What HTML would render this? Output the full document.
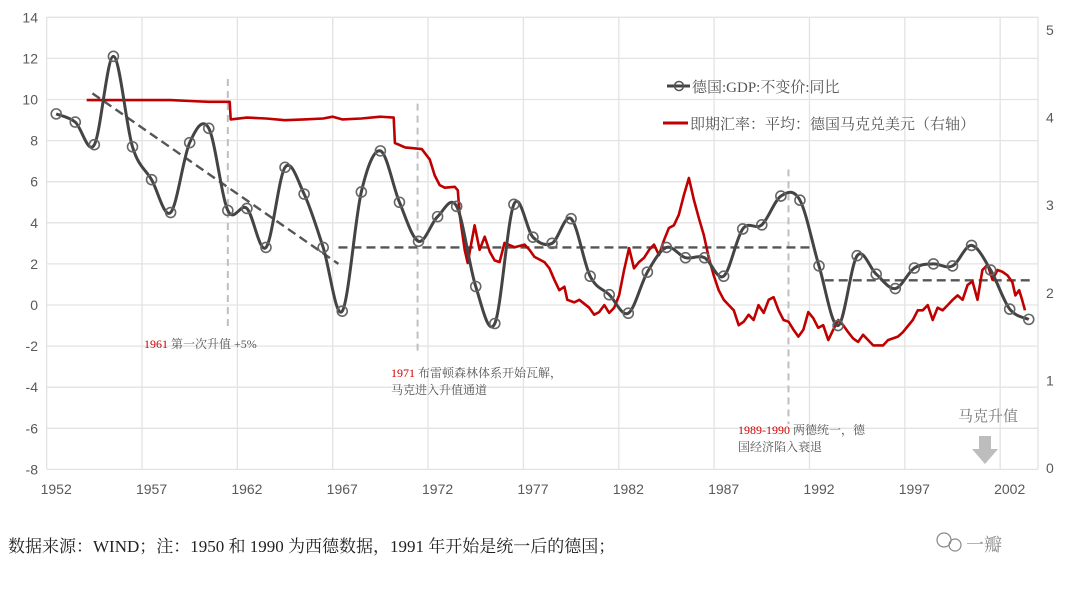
<!DOCTYPE html>
<html><head><meta charset="utf-8">
<style>
body{margin:0;background:#fff;width:1080px;height:589px;overflow:hidden;font-family:"Liberation Sans","Noto Sans CJK SC",sans-serif}
svg text{font-family:"Liberation Sans","Noto Sans CJK SC",sans-serif}
.cn{font-family:"Liberation Serif","Noto Serif CJK SC",serif}
</style></head><body>
<svg id="chart" width="1080" height="589" viewBox="0 0 1080 589" xmlns="http://www.w3.org/2000/svg">
<g id="grid"></g>
<g id="axes"></g>
<g id="refs"></g>
<g id="series"></g>
<g id="legend">
 <line x1="667" y1="86" x2="690" y2="86" stroke="#444" stroke-width="3"/>
 <circle cx="679" cy="86" r="4.5" fill="none" stroke="#555" stroke-width="1.5"/>
 <text x="692" y="92" font-size="15" fill="#555" class="cn">德国:GDP:不变价:同比</text>
 <line x1="663" y1="123" x2="688" y2="123" stroke="#c00000" stroke-width="3"/>
 <text x="690" y="129" font-size="15" fill="#555" class="cn">即期汇率：平均：德国马克兑美元（右轴）</text>
</g>
<g id="notes">
 <text x="144" y="348" font-size="12" class="cn"><tspan fill="#d00000">1961</tspan><tspan fill="#555"> 第一次升值 +5%</tspan></text>
 <text x="391" y="377" font-size="12" class="cn"><tspan fill="#d00000">1971</tspan><tspan fill="#555"> 布雷顿森林体系开始瓦解，</tspan></text>
 <text x="391" y="394" font-size="12" fill="#555" class="cn">马克进入升值通道</text>
 <text x="738" y="434" font-size="12" class="cn"><tspan fill="#d00000">1989-1990</tspan><tspan fill="#555"> 两德统一，德</tspan></text>
 <text x="738" y="451" font-size="12" fill="#555" class="cn">国经济陷入衰退</text>
 <text x="958" y="421" font-size="15" fill="#777" class="cn">马克升值</text>
 <polygon points="979,436 991,436 991,449 998,449 985,464 972,449 979,449" fill="#bdbdbd"/>
</g>
<text x="8" y="552" font-size="17" fill="#222" class="cn">数据来源：WIND；注：1950 和 1990 为西德数据，1991 年开始是统一后的德国；</text>
<g>
 <circle cx="944" cy="540" r="7" fill="none" stroke="#888" stroke-width="1.2"/>
 <circle cx="955" cy="545" r="6" fill="none" stroke="#888" stroke-width="1.2"/>
 <text x="966" y="551" font-size="18" fill="#888" class="cn">一瓣</text>
</g>
</svg>
<script>
const years=[1952,1953,1954,1955,1956,1957,1958,1959,1960,1961,1962,1963,1964,1965,1966,1967,1968,1969,1970,1971,1972,1973,1974,1975,1976,1977,1978,1979,1980,1981,1982,1983,1984,1985,1986,1987,1988,1989,1990,1991,1992,1993,1994,1995,1996,1997,1998,1999,2000,2001,2002,2003];
const gdpValues=[9.3,8.9,7.8,12.1,7.7,6.1,4.5,7.9,8.6,4.6,4.7,2.8,6.7,5.4,2.8,-0.3,5.5,7.5,5.0,3.1,4.3,4.8,0.9,-0.9,4.9,3.3,3.0,4.2,1.4,0.5,-0.4,1.6,2.8,2.3,2.3,1.4,3.7,3.9,5.3,5.1,1.9,-1.0,2.4,1.5,0.8,1.8,2.0,1.9,2.9,1.7,-0.2,-0.7];
const fxYears=[1953.6,1958,1959,1960,1961.1,1961.15,1962,1963,1964,1965,1966,1966.5,1967,1968,1969,1969.7,1969.76,1970.3,1971.17,1971.59,1971.85,1972.11,1972.38,1972.9,1973.06,1973.16,1973.42,1973.58,1973.94,1974.2,1974.47,1974.73,1974.99,1975.25,1975.51,1976.03,1976.56,1976.82,1977.08,1977.6,1977.86,1978.12,1978.38,1978.65,1978.8,1979.17,1979.43,1979.95,1980.21,1980.47,1980.74,1981.0,1981.26,1981.52,1981.78,1982.04,1982.3,1982.56,1982.83,1983.09,1983.35,1983.61,1983.87,1984.13,1984.39,1984.65,1984.92,1985.18,1985.44,1985.7,1985.96,1986.22,1986.48,1986.74,1987.01,1987.27,1987.53,1987.79,1988.05,1988.31,1988.57,1988.83,1989.1,1989.36,1989.62,1989.88,1990.14,1990.4,1990.66,1990.92,1991.18,1991.44,1991.7,1991.96,1992.22,1992.49,1992.75,1993.01,1993.27,1993.53,1993.79,1994.05,1994.31,1994.84,1995.36,1995.62,1996.14,1996.4,1996.92,1997.18,1997.44,1997.7,1997.96,1998.22,1998.48,1998.75,1999.01,1999.27,1999.53,1999.79,2000.05,2000.31,2000.57,2000.84,2001.1,2001.36,2001.62,2001.88,2002.14,2002.3,2002.5,2002.65,2002.8];
const fxValues=[4.20,4.20,4.19,4.18,4.18,3.98,4.00,3.99,3.97,3.98,3.99,4.01,3.98,3.99,4.01,4.00,3.71,3.66,3.64,3.52,3.34,3.23,3.20,3.21,3.17,2.89,2.49,2.34,2.77,2.49,2.64,2.47,2.37,2.35,2.57,2.52,2.55,2.49,2.41,2.35,2.28,2.15,2.03,2.07,1.92,1.89,1.92,1.83,1.75,1.78,1.86,1.77,1.83,1.97,2.26,2.51,2.28,2.35,2.40,2.49,2.55,2.43,2.60,2.74,2.77,2.89,3.12,3.31,3.06,2.85,2.66,2.40,2.20,2.03,1.92,1.86,1.80,1.63,1.67,1.75,1.69,1.86,1.77,1.92,1.95,1.80,1.69,1.67,1.58,1.50,1.58,1.78,1.71,1.60,1.63,1.46,1.58,1.69,1.63,1.55,1.48,1.44,1.52,1.40,1.40,1.46,1.50,1.55,1.69,1.80,1.80,1.86,1.69,1.83,1.80,1.86,1.92,1.97,1.92,2.09,2.13,1.92,2.26,2.32,2.15,2.26,2.24,2.20,2.12,1.97,2.03,1.92,1.80];
const leftTicks=[-8,-6,-4,-2,0,2,4,6,8,10,12,14];
const rightTicks=[0,1,2,3,4,5];
const xTickYears=[1952,1957,1962,1967,1972,1977,1982,1987,1992,1997,2002];
const trendDown=[[1953.9,10.3],[1966.8,2.0]];
const trendMid=[[1966.8,2.8],[1991.6,2.8]];
const trendLate=[[1992.3,1.2],[2003.2,1.2]];
const eventLines=[[1961.0,11.0,-1.1],[1970.95,9.8,-2.4],[1990.4,6.6,-5.8]];

const NS='http://www.w3.org/2000/svg';
const X=y=>56.2+(y-1952)*19.07;
const YL=v=>305-v*20.55;
const YR=v=>468-v*87.6;
const L=46.7,R=1038,T=17,B=469;
function mk(parent,tag,attrs){const e=document.createElementNS(NS,tag);for(const k in attrs)e.setAttribute(k,attrs[k]);document.getElementById(parent).appendChild(e);return e;}

leftTicks.forEach(v=>{
  const g=mk('grid','line',{x1:L,x2:R,y1:YL(v),y2:YL(v),stroke:'#e3e3e3','stroke-width':1.3});
  
  
  const t=mk('axes','text',{x:38,y:YL(v)+5,'text-anchor':'end','font-size':14,fill:'#595959'});
  
  
  t.textContent=v;
});
xTickYears.forEach(yr=>{
  const g=mk('grid','line',{x1:X(yr-0.5),x2:X(yr-0.5),y1:T,y2:B,stroke:'#e3e3e3','stroke-width':1.3});
  
  
  const t=mk('axes','text',{x:X(yr),y:494,'text-anchor':'middle','font-size':14,fill:'#595959'});
  
  
  t.textContent=yr;
});
const rg=mk('grid','line',{x1:R,x2:R,y1:T,y2:B,stroke:'#e3e3e3','stroke-width':1.3});


rightTicks.forEach(v=>{
  const t=mk('axes','text',{x:1046,y:YR(v)+5,'font-size':14,fill:'#595959'});
  
  
  t.textContent=v;
});
eventLines.forEach(e=>{
  const l=mk('refs','line',{x1:X(e[0]),x2:X(e[0]),y1:YL(e[1]),y2:YL(e[2]),stroke:'#bfbfbf','stroke-width':2,'stroke-dasharray':'7,5'});
  
  
});
[trendDown,trendMid,trendLate].forEach(t=>{
  const l=mk('refs','line',{x1:X(t[0][0]),y1:YL(t[0][1]),x2:X(t[1][0]),y2:YL(t[1][1]),stroke:'#555','stroke-width':2.4,'stroke-dasharray':'9,5'});
  
  
});
// fx line
let d='';
fxYears.forEach((yr,i)=>{d+=(i?'L':'M')+X(yr).toFixed(1)+','+YR(fxValues[i]).toFixed(1);});
const fx=mk('series','path',{d:d,fill:'none',stroke:'#c00000','stroke-width':2.6,'stroke-linejoin':'round'});


// gdp smooth line
const pts=years.map((yr,i)=>[X(yr),YL(gdpValues[i])]);
let s='M'+pts[0][0]+','+pts[0][1];
for(let i=0;i<pts.length-1;i++){
  const p0=pts[Math.max(0,i-1)],p1=pts[i],p2=pts[i+1],p3=pts[Math.min(pts.length-1,i+2)];
  const t=0.5/3;
  s+='C'+(p1[0]+(p2[0]-p0[0])*t)+','+(p1[1]+(p2[1]-p0[1])*t)+' '+(p2[0]-(p3[0]-p1[0])*t)+','+(p2[1]-(p3[1]-p1[1])*t)+' '+p2[0]+','+p2[1];
}
const gl=mk('series','path',{d:s,fill:'none',stroke:'#444','stroke-width':3});


pts.forEach(p=>{
  const c=mk('series','circle',{cx:p[0],cy:p[1],r:5,fill:'none',stroke:'#666','stroke-width':1.6});
  
  
});
</script>
</body></html>
